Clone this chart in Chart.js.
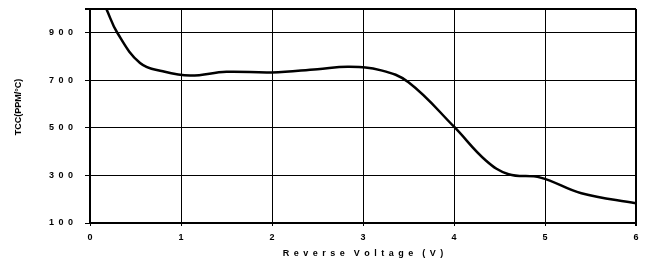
<!DOCTYPE html>
<html>
<head>
<meta charset="utf-8">
<script src="https://cdn.jsdelivr.net/npm/chart.js@4"></script>
<style>
  html, body { margin: 0; padding: 0; background: #fff; }
  #wrap { width: 646px; height: 261px; }
</style>
</head>
<body>
<div id="wrap"><canvas id="tcc"></canvas></div>
<script>
// values
const voltage = [0.18, 0.3, 0.55, 0.8, 1.1, 1.5, 2.0, 2.5, 2.85, 3.2, 3.5, 4.0, 4.35, 4.6, 4.95, 5.4, 6.0];
const tcc     = [1000, 900, 773, 738, 720, 736, 733, 747, 757, 742, 692, 505, 363, 305, 291, 225, 183];
const yTicks  = [100, 300, 500, 700, 900, 1000];
const xTicks  = [0, 1, 2, 3, 4, 5, 6];

// wide letter spacing like the original
const spaced = s => String(s).split('').join('\u2002');
const font = { family: 'Liberation Sans, Arial, sans-serif', weight: 'bold', size: 9 };

new Chart(document.getElementById('tcc'), {
    type: 'scatter',
    data: {
        datasets: [{
            data: voltage.map((v, i) => ({ x: v, y: tcc[i] })),
            showLine: true,
            borderColor: '#000',
            borderWidth: 2.5,
            pointRadius: 0,
            tension: 0.4,
            clip: 0
        }]
    },
    options: {
        responsive: true, maintainAspectRatio: false, animation: false,
        layout: { padding: { top: 9, right: 10, left: 0, bottom: 0 } },
        plugins: { legend: { display: false }, tooltip: { enabled: false } },
        scales: {
            x: {
                type: 'linear', min: 0, max: 6,
                afterBuildTicks: s => { s.ticks = xTicks.map(v => ({ value: v })); },
                afterFit: s => { s.height = 38; s.paddingLeft = 0; s.paddingRight = 0; },
                grid: {
                    color: '#000',
                    lineWidth: c => (c.tick && c.tick.value === 6) ? 2 : 1,
                    tickLength: 3
                },
                border: { color: '#000', width: 2 },
                ticks: { color: '#000', font, padding: 6, maxRotation: 0 },
                title: {
                    display: true,
                    text: ['Reverse', 'Voltage', '(V)'].map(spaced).join('\u2002\u2002'),
                    color: '#000', font, padding: { top: 1, bottom: 2 }
                }
            },
            y: {
                min: 100, max: 1000,
                afterBuildTicks: s => { s.ticks = yTicks.map(v => ({ value: v })); },
                afterFit: s => { s.width = 90; s.paddingTop = 0; s.paddingBottom = 0; },
                grid: {
                    color: '#000',
                    lineWidth: c => (c.tick && c.tick.value === 1000) ? 2 : 1,
                    tickLength: 5
                },
                border: { color: '#000', width: 2 },
                ticks: { color: '#000', font, padding: 12, callback: v => v === 1000 ? '' : spaced(v) },
                // leading spaces nudge the rotated title up a little, as in the original
                title: { display: true, text: '\u2002\u2002\u2002\u2002TCC(PPM/°C)', color: '#000', font, padding: { top: 13, bottom: 0 } }
            }
        }
    }
});
</script>
</body>
</html>
